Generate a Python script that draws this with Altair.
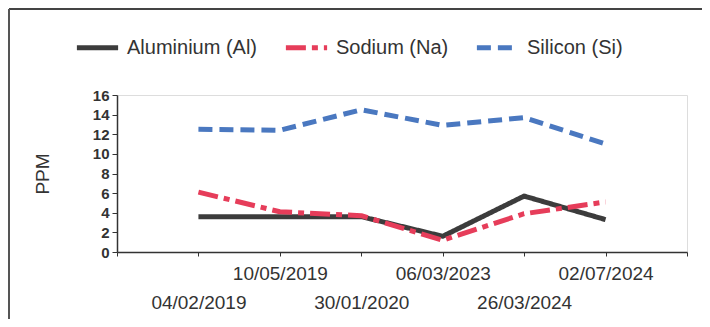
import altair as alt
import pandas as pd

dates = ["04/02/2019", "10/05/2019", "30/01/2020", "06/03/2023", "26/03/2024", "02/07/2024"]
series_names = ["Aluminium (Al)", "Sodium (Na)", "Silicon (Si)"]
aluminium = [3.6, 3.6, 3.6, 1.6, 5.7, 3.3]
sodium = [6.1, 4.1, 3.7, 1.2, 3.9, 5.1]
silicon = [12.5, 12.4, 14.5, 12.9, 13.7, 11.0]
y_ticks = [0, 2, 4, 6, 8, 10, 12, 14, 16]

colors = ["#3c3c3c", "#e63d5a", "#4a78c0"]
dashes = [[1, 0], [20, 6, 6, 6], [14, 7]]

rows = []
for name, vals in zip(series_names, [aluminium, sodium, silicon]):
    for i, (d, v) in enumerate(zip(dates, vals)):
        rows.append({"idx": i, "date": d, "element": name, "value": v})
df = pd.DataFrame(rows)

arr = "[" + ",".join("'" + d + "'" for d in dates) + "]"
label_expr = (
    f"datum.value < 0 || datum.value > {len(dates) - 1} ? '' : "
    f"(datum.value % 2 == 0 ? ['', {arr}[datum.value]] : {arr}[datum.value])"
)

FONT = "Liberation Sans"
TXT = "#333333"

legend = alt.Legend(
    title=None,
    orient="none",
    legendX=-43,
    legendY=-71,
    direction="horizontal",
    symbolType="stroke",
    symbolSize=1700,
    symbolStrokeWidth=5,
    labelFont=FONT,
    labelFontSize=20,
    labelColor=TXT,
    labelOffset=6,
    columnPadding=17,
)

lines = alt.Chart(df).mark_line(strokeWidth=5, strokeJoin="round").encode(
    x=alt.X(
        "idx:Q",
        scale=alt.Scale(domain=[-1, len(dates)], nice=False, zero=False),
        axis=alt.Axis(
            values=list(range(-1, len(dates) + 1)),
            labelExpr=label_expr,
            title=None,
            grid=False,
            tickSize=4,
            labelPadding=8,
            labelFontSize=19,
            labelLineHeight=29,
            labelBaseline="top",
            labelFont=FONT,
            labelColor=TXT,
            domainColor="#333333",
            tickColor="#333333",
            domainWidth=1.5,
            labelOverlap=False,
            labelFlush=False,
            labelBound=False,
        ),
    ),
    y=alt.Y(
        "value:Q",
        scale=alt.Scale(domain=[0, 16], nice=False),
        axis=alt.Axis(
            values=y_ticks,
            title="PPM",
            titleFont=FONT,
            titleFontSize=19,
            titleFontWeight="normal",
            titleColor=TXT,
            titlePadding=40,
            labelFont=FONT,
            labelFontSize=15,
            labelFontWeight="bold",
            labelColor=TXT,
            labelPadding=3,
            tickSize=5,
            grid=False,
            domainColor="#333333",
            tickColor="#333333",
            domainWidth=1.5,
        ),
    ),
    color=alt.Color("element:N", scale=alt.Scale(domain=series_names, range=colors), legend=legend),
    strokeDash=alt.StrokeDash("element:N", scale=alt.Scale(domain=series_names, range=dashes), legend=legend),
)

frame_df = pd.DataFrame({"k": [0]})
top_line = alt.Chart(frame_df).mark_rule(color="#444444", strokeWidth=2).encode(
    x=alt.value(-108), x2=alt.value(600), y=alt.value(-86)
)
left_line = alt.Chart(frame_df).mark_rule(color="#555555", strokeWidth=2).encode(
    x=alt.value(-108), y=alt.value(-86), y2=alt.value(240)
)

chart = alt.layer(top_line, left_line, lines).properties(
    width=570,
    height=157,
    autosize=alt.AutoSizeParams(type="none"),
    padding={"left": 109, "top": 87, "right": 15, "bottom": 67},
).configure_view(strokeWidth=0).configure(background="white")

chart.save("out.html", embed_options={"renderer": "svg", "actions": False})
